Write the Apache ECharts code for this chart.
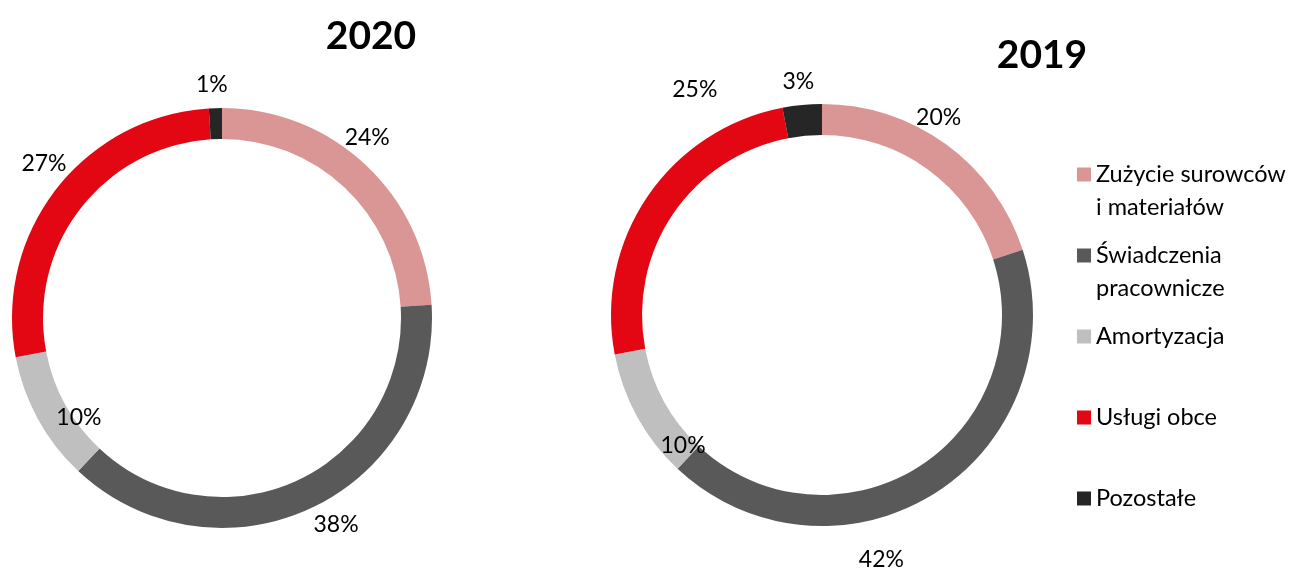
<!DOCTYPE html>
<html>
<head>
<meta charset="utf-8">
<script src="https://cdn.jsdelivr.net/npm/echarts@6/dist/echarts.min.js"></script>
<style>
  html, body { margin: 0; padding: 0; background: #fff; }
  #main { width: 1296px; height: 568px; }
</style>
</head>
<body>
<div id="main"></div>
<script>
const chart = echarts.init(document.getElementById('main'))

const categories = ['Zużycie surowców i materiałów', 'Świadczenia pracownicze', 'Amortyzacja', 'Usługi obce', 'Pozostałe']
const legendLines = [
  ['Zużycie surowców', 'i materiałów'],
  ['Świadczenia', 'pracownicze'],
  ['Amortyzacja', ' '],
  ['Usługi obce', ' '],
  ['Pozostałe', ' ']
]
const values2020 = [24, 38, 10, 27, 1]
const values2019 = [20, 42, 10, 25, 3]
const colors = ['#D99694', '#595959', '#BFBFBF', '#E30613', '#262626']

// label nudges (Excel puts the labels a bit freely around the ring)
const shift2020 = [[10, -36], [30, 28], [30, 4], [-22, -33], [-4, -36]]
const shift2019 = [[0, -37], [-47, 77], [35, 35], [37, -114], [-5, -36]]

const font = 'Lato, "Noto Sans", sans-serif'

let makeRing = (values, center, radius, shifts) => {
  return {
    type: 'pie',
    center: center,
    radius: radius,
    startAngle: 90,
    clockwise: true,
    avoidLabelOverlap: false,
    silent: true,
    itemStyle: { borderWidth: 0 },
    label: {
      show: true,
      position: 'inside',
      formatter: '{c}%',
      color: '#000',
      fontFamily: font,
      fontSize: 23
    },
    labelLine: { show: false },
    labelLayout: (params) => {
      let s = shifts[params.dataIndex]
      return { dx: s[0], dy: s[1] }
    },
    data: categories.map((name, i) => ({ name: name, value: values[i] }))
  }
}

let option = {
  animation: false,
  color: colors,
  title: [
    {
      text: '2020',
      left: 366,
      top: 11,
      textAlign: 'center',
      textStyle: { fontFamily: font, fontWeight: 'bold', fontSize: 39, lineHeight: 40, color: '#000' }
    },
    {
      text: '2019',
      left: 1037,
      top: 30,
      textAlign: 'center',
      textStyle: { fontFamily: font, fontWeight: 'bold', fontSize: 39, lineHeight: 40, color: '#000' }
    }
  ],
  legend: {
    orient: 'vertical',
    left: 1077,
    top: 125,
    padding: 0,
    itemWidth: 14,
    itemHeight: 14,
    itemGap: -18,
    icon: 'rect',
    selectedMode: false,
    data: categories,
    formatter: (name) => ' \n' + legendLines[categories.indexOf(name)].join('\n'),
    textStyle: {
      fontFamily: font,
      fontSize: 23.5,
      lineHeight: 33,
      color: '#000'
    }
  },
  series: [
    makeRing(values2020, [222, 318], [179, 210], shift2020),
    makeRing(values2019, [822, 315], [180, 211], shift2019)
  ]
}
chart.setOption(option)
</script>
</body>
</html>
